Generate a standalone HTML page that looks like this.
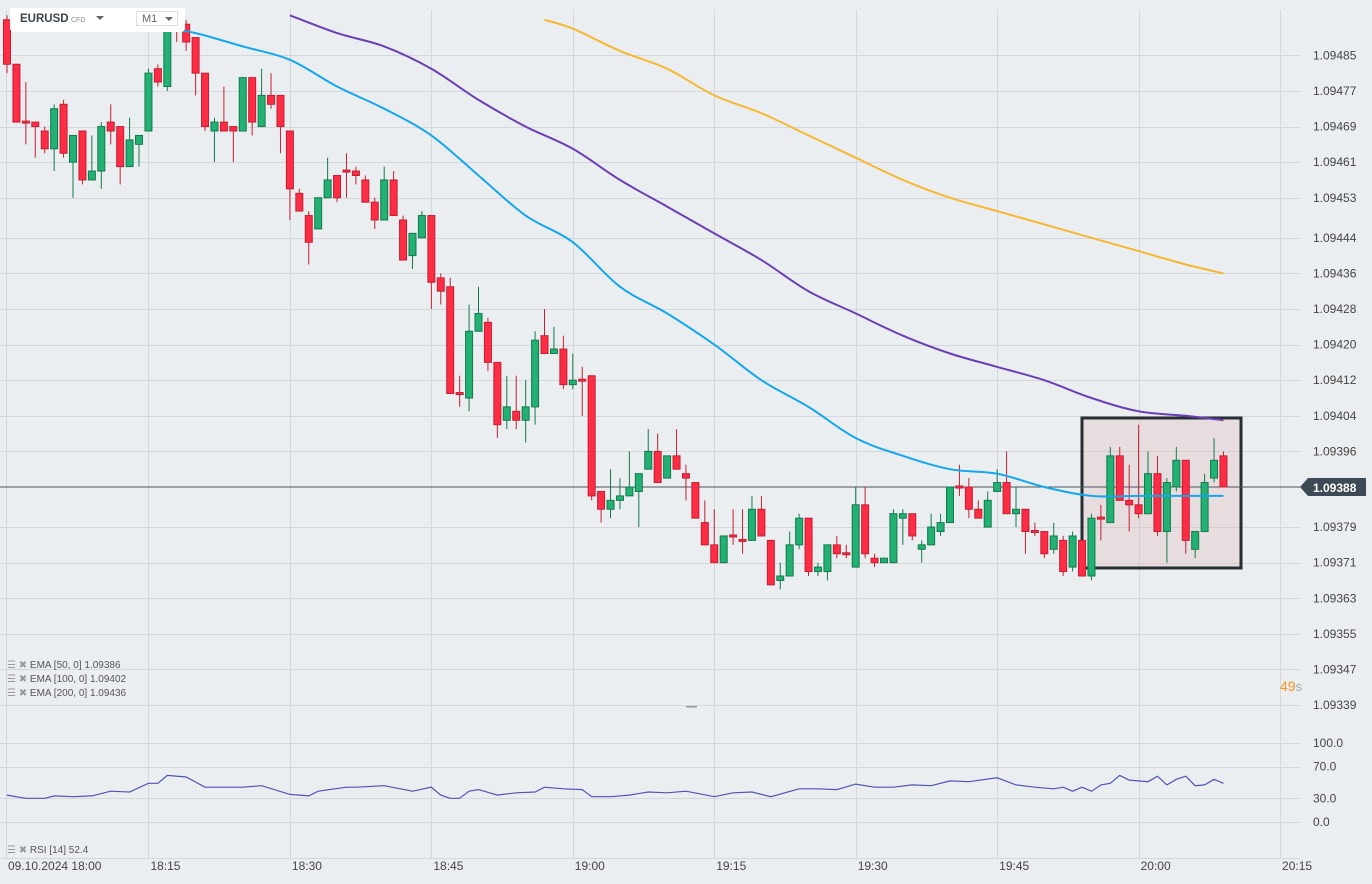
<!DOCTYPE html>
<html><head><meta charset="utf-8">
<style>
body{margin:0;background:#ebeef1;font-family:"Liberation Sans",sans-serif;}
#wrap{position:relative;width:1372px;height:884px;overflow:hidden;background:#ebeef1;}
svg{position:absolute;left:0;top:0;}
.hdr{position:absolute;left:10px;top:8px;width:175px;height:24px;background:#fff;border-radius:0 0 4px 4px;}
.sym{position:absolute;left:10px;top:5px;font-size:11.5px;font-weight:bold;color:#3a4550;}
.cfd{position:absolute;left:61px;top:9px;font-size:7px;color:#888;}
.tri{position:absolute;left:86px;top:8px;width:0;height:0;border-left:4px solid transparent;border-right:4px solid transparent;border-top:4px solid #666;}
.tf{position:absolute;left:126px;top:3px;width:42px;height:15px;border:1px solid #ddd;font-size:11px;color:#666;box-sizing:border-box;padding:1px 0 0 5px;}
.tf i{position:absolute;right:4px;top:5px;border-left:4px solid transparent;border-right:4px solid transparent;border-top:4px solid #666;}
.leg{position:absolute;left:7px;font-size:10px;color:#555;}
.leg b{color:#999;font-weight:normal;}
</style></head><body>
<div id="wrap">
<svg id="chart" width="1372" height="884"></svg>
<div class="hdr">
  <div class="sym">EURUSD</div>
  <div class="cfd">CFD</div>
  <div class="tri"></div>
  <div class="tf">M1<i></i></div>
</div>
<div class="leg" style="top:660px"><b>☰ ✖</b> EMA [50, 0] 1.09386</div>
<div class="leg" style="top:674px"><b>☰ ✖</b> EMA [100, 0] 1.09402</div>
<div class="leg" style="top:688px"><b>☰ ✖</b> EMA [200, 0] 1.09436</div>
<div class="leg" style="top:845px"><b>☰ ✖</b> RSI [14] 52.4</div>
<div style="position:absolute;left:1280px;top:678px;font-size:14px;color:#f7931e">49<span style="color:#aaa;font-size:13px">s</span></div>
</div>
<script>
const opens=[1.09493,1.09483,1.09470,1.09470,1.09468,1.09464,1.09474,1.09461,1.09468,1.09457,1.09459,1.09470,1.09469,1.09460,1.09465,1.09468,1.09482,1.09478,1.09492,1.09492,1.09489,1.09481,1.09468,1.09470,1.09469,1.09468,1.09480,1.09469,1.09476,1.09476,1.09468,1.09454,1.09449,1.09446,1.09453,1.09458,1.09459,1.09459,1.09457,1.09452,1.09448,1.09457,1.09448,1.09440,1.09444,1.09449,1.09435,1.09433,1.09409,1.09408,1.09423,1.09425,1.09416,1.09403,1.09405,1.09403,1.09406,1.09422,1.09418,1.09419,1.09411,1.09412,1.09413,1.09387,1.09383,1.09385,1.09386,1.09387,1.09392,1.09396,1.09390,1.09395,1.09391,1.09389,1.09380,1.09375,1.09371,1.09377,1.09376,1.09376,1.09383,1.09376,1.09367,1.09368,1.09375,1.09381,1.09369,1.09369,1.09375,1.09373,1.09370,1.09384,1.09372,1.09371,1.09371,1.09381,1.09382,1.09374,1.09375,1.09378,1.09380,1.09388,1.09388,1.09383,1.09379,1.09387,1.09389,1.09382,1.09383,1.09378,1.09378,1.09374,1.09376,1.09370,1.09376,1.09368,1.09381,1.09380,1.09395,1.09385,1.09384,1.09382,1.09391,1.09378,1.09388,1.09394,1.09374,1.09378,1.09390,1.09395];
const closes=[1.09483,1.09470,1.09470,1.09469,1.09464,1.09473,1.09463,1.09467,1.09457,1.09459,1.09469,1.09468,1.09460,1.09466,1.09467,1.09481,1.09479,1.09491,1.09491,1.09488,1.09481,1.09469,1.09470,1.09468,1.09468,1.09480,1.09470,1.09476,1.09474,1.09469,1.09455,1.09450,1.09443,1.09453,1.09457,1.09453,1.09459,1.09458,1.09452,1.09448,1.09457,1.09449,1.09439,1.09445,1.09449,1.09434,1.09432,1.09409,1.09409,1.09423,1.09427,1.09416,1.09402,1.09406,1.09403,1.09406,1.09421,1.09418,1.09419,1.09411,1.09412,1.09412,1.09386,1.09383,1.09385,1.09386,1.09388,1.09391,1.09396,1.09389,1.09395,1.09392,1.09390,1.09381,1.09375,1.09371,1.09377,1.09377,1.09376,1.09383,1.09377,1.09366,1.09368,1.09375,1.09381,1.09369,1.09370,1.09375,1.09373,1.09373,1.09384,1.09373,1.09371,1.09372,1.09382,1.09382,1.09377,1.09375,1.09379,1.09380,1.09388,1.09388,1.09383,1.09381,1.09385,1.09389,1.09382,1.09383,1.09378,1.09378,1.09373,1.09377,1.09369,1.09377,1.09368,1.09381,1.09381,1.09395,1.09385,1.09384,1.09382,1.09391,1.09378,1.09389,1.09394,1.09376,1.09378,1.09389,1.09394,1.09388];
const highs=[1.09494,1.09483,1.09479,1.09470,1.09469,1.09474,1.09475,1.09467,1.09468,1.09467,1.09470,1.09474,1.09469,1.09471,1.09467,1.09482,1.09483,1.09492,1.09493,1.09493,1.09489,1.09481,1.09471,1.09478,1.09469,1.09480,1.09480,1.09482,1.09481,1.09476,1.09468,1.09455,1.09450,1.09453,1.09462,1.09458,1.09463,1.09460,1.09458,1.09453,1.09460,1.09459,1.09449,1.09445,1.09450,1.09449,1.09436,1.09435,1.09413,1.09429,1.09433,1.09426,1.09416,1.09413,1.09413,1.09412,1.09423,1.09428,1.09424,1.09422,1.09418,1.09415,1.09413,1.09387,1.09392,1.09390,1.09396,1.09391,1.09401,1.09400,1.09395,1.09401,1.09393,1.09389,1.09385,1.09383,1.09377,1.09383,1.09383,1.09386,1.09386,1.09376,1.09371,1.09378,1.09382,1.09381,1.09371,1.09375,1.09377,1.09375,1.09388,1.09388,1.09373,1.09372,1.09383,1.09383,1.09382,1.09376,1.09382,1.09382,1.09388,1.09393,1.09390,1.09385,1.09387,1.09392,1.09396,1.09388,1.09383,1.09380,1.09378,1.09380,1.09377,1.09378,1.09376,1.09382,1.09384,1.09397,1.09397,1.09393,1.09402,1.09396,1.09395,1.09390,1.09397,1.09394,1.09378,1.09391,1.09399,1.09396];
const lows=[1.09481,1.09470,1.09465,1.09462,1.09463,1.09459,1.09462,1.09453,1.09456,1.09457,1.09455,1.09465,1.09456,1.09460,1.09460,1.09468,1.09478,1.09477,1.09488,1.09486,1.09476,1.09468,1.09461,1.09468,1.09461,1.09468,1.09467,1.09469,1.09473,1.09463,1.09448,1.09450,1.09438,1.09446,1.09453,1.09452,1.09453,1.09456,1.09452,1.09446,1.09448,1.09449,1.09439,1.09437,1.09444,1.09428,1.09429,1.09409,1.09406,1.09405,1.09423,1.09414,1.09399,1.09401,1.09401,1.09398,1.09402,1.09418,1.09418,1.09410,1.09410,1.09404,1.09385,1.09380,1.09381,1.09383,1.09386,1.09379,1.09392,1.09389,1.09390,1.09392,1.09385,1.09381,1.09375,1.09371,1.09371,1.09375,1.09373,1.09376,1.09377,1.09366,1.09365,1.09368,1.09374,1.09368,1.09368,1.09367,1.09372,1.09372,1.09370,1.09372,1.09370,1.09371,1.09371,1.09375,1.09376,1.09371,1.09375,1.09377,1.09380,1.09386,1.09381,1.09381,1.09379,1.09387,1.09382,1.09379,1.09373,1.09377,1.09372,1.09373,1.09368,1.09369,1.09368,1.09367,1.09376,1.09380,1.09385,1.09378,1.09381,1.09382,1.09377,1.09371,1.09387,1.09373,1.09372,1.09378,1.09389,1.09388];
const emaIdx=[12,15,20,25,30,35,40,45,50,55,60,65,70,75,80,85,90,95,100,105,110,115,120,125,129];
const ema50=[1.09494,1.09492,1.09490,1.09487,1.09484,1.09478,1.09473,1.09467,1.09458,1.09449,1.09443,1.09433,1.09427,1.09420,1.09412,1.09406,1.09399,1.09395,1.09392,1.09391,1.09388,1.09386,1.09386,1.09386,1.09386];
const ema100Idx=[30,35,40,45,50,55,60,65,70,75,80,85,90,95,100,105,110,115,120,125,129];
const ema100=[1.09494,1.09490,1.09487,1.09482,1.09475,1.09469,1.09464,1.09457,1.09451,1.09445,1.09439,1.09432,1.09427,1.09422,1.09418,1.09415,1.09412,1.09408,1.09405,1.09404,1.09403];
const ema200Idx=[57,60,65,70,75,80,85,90,95,100,105,110,115,120,125,129];
const ema200=[1.09493,1.09491,1.09486,1.09482,1.09476,1.09472,1.09467,1.09462,1.09457,1.09453,1.09450,1.09447,1.09444,1.09441,1.09438,1.09436];
const rsiIdx=[0,2,4,5,7,9,11,13,15,16,17,19,21,23,25,27,30,32,33,36,37,40,43,45,46,47,48,49,50,52,54,56,57,59,61,62,64,66,68,70,72,75,77,79,81,84,86,88,90,92,94,96,98,100,102,105,107,109,111,112,113,114,115,116,117,118,119,121,122,123,124,125,126,127,128,129];
const rsiVal=[34,30,30,33,32,33,39,38,49,49,59,57,44,44,44,46,35,33,39,44,44,46,39,44,34,30,30,39,41,34,37,38,44,42,41,32,32,34,38,37,39,32,37,38,32,42,42,41,48,44,44,47,46,52,51,56,47,44,42,44,39,44,39,47,49,59,53,51,58,47,54,58,46,47,54,49];
const priceTicks=["1.09485","1.09477","1.09469","1.09461","1.09453","1.09444","1.09436","1.09428","1.09420","1.09412","1.09404","1.09396","1.09379","1.09371","1.09363","1.09355","1.09347","1.09339"];
const rsiTicks=[100,70,30,0];
const timeLabels=["18:15","18:30","18:45","19:00","19:15","19:30","19:45","20:00","20:15"];
const lastPrice=1.09388;

const NS="http://www.w3.org/2000/svg";
const svg=document.getElementById('chart');
function X(i){return 7+i*9.43;}
function Y(p){return 487+(1.09388-p)*445000;}
function RY(v){return 822-0.79*v;}
function mk(t,a,parent){const e=document.createElementNS(NS,t);for(const k in a)e.setAttribute(k,a[k]);(parent||svg).appendChild(e);return e;}

const grid=mk('g',{});


priceTicks.forEach(t=>{const y=Math.round(Y(parseFloat(t)))+0.5;mk('line',{x1:0,x2:1300,y1:y,y2:y,stroke:'#d3d8dc','stroke-width':1},grid);});
rsiTicks.forEach(v=>{const y=Math.round(RY(v))+0.5;mk('line',{x1:0,x2:1300,y1:y,y2:y,stroke:'#d3d8dc','stroke-width':1},grid);});
mk('line',{x1:0,x2:1300,y1:858.5,y2:858.5,stroke:'#d3d8dc'},grid);
timeLabels.forEach((t,k)=>{const x=Math.round(X(15*(k+1)))+0.5;mk('line',{x1:x,x2:x,y1:10,y2:858,stroke:'#d3d8dc'},grid);});
mk('line',{x1:6.5,x2:6.5,y1:10,y2:858,stroke:'#d3d8dc'},grid);

const hb=mk('rect',{x:1082,y:418,width:159,height:150,fill:'rgba(220,170,170,0.25)',stroke:'#262e33','stroke-width':3});



const cl=mk('line',{x1:0,x2:1300,y1:Y(lastPrice),y2:Y(lastPrice),stroke:'#4a5560','stroke-width':1});



const defs=mk('defs',{});
const cp=mk('clipPath',{id:'pc'},defs);mk('rect',{x:0,y:14,width:1300,height:700},cp);
const plot=mk('g',{'clip-path':'url(#pc)'});

function smoothPath(pts){
  let d='M'+pts[0][0].toFixed(1)+' '+pts[0][1].toFixed(1);
  for(let k=0;k<pts.length-1;k++){
    const p0=pts[k-1]||pts[k],p1=pts[k],p2=pts[k+1],p3=pts[k+2]||p2;
    const c1=[p1[0]+(p2[0]-p0[0])/6,p1[1]+(p2[1]-p0[1])/6];
    const c2=[p2[0]-(p3[0]-p1[0])/6,p2[1]-(p3[1]-p1[1])/6];
    d+=` C${c1[0].toFixed(1)} ${c1[1].toFixed(1)} ${c2[0].toFixed(1)} ${c2[1].toFixed(1)} ${p2[0].toFixed(1)} ${p2[1].toFixed(1)}`;
  }
  return d;
}
function emaLine(idx,vals,col,name){
  const pts=idx.map((i,k)=>[X(i),Y(vals[k])]);
  const e=mk('path',{d:smoothPath(pts),fill:'none',stroke:col,'stroke-width':2,'stroke-linejoin':'round'},plot);
  
  
}
emaLine(ema200Idx,ema200,'#f7b731','ema200-line');
emaLine(ema100Idx,ema100,'#6a3fb5','ema100-line');

opens.forEach((o,i)=>{
  const c=closes[i],up=c>o;
  const fill=up?'#22b073':'#fe2d45',str=up?'#137a4d':'#c41f33';
  const x=X(i);
  const g=mk('g',{},plot);
  
  
  mk('line',{x1:x,x2:x,y1:Y(highs[i]),y2:Y(lows[i]),stroke:str,'stroke-width':1},g);
  let top=Y(Math.max(o,c)),bot=Y(Math.min(o,c));
  if(bot-top<2){const m=(top+bot)/2;top=m-1;bot=m+1;}
  mk('rect',{x:x-3.5,y:top,width:7,height:bot-top,fill:fill,stroke:str,'stroke-width':1},g);
});
emaLine(emaIdx,ema50,'#14a7ec','ema50-line');

priceTicks.forEach(t=>{const tx=mk('text',{x:1313,y:Y(parseFloat(t))+4,'font-size':12,fill:'#444','font-family':'Liberation Sans, sans-serif'});tx.textContent=t;

});
const tag=mk('g',{});


const ly=Y(lastPrice);
mk('path',{d:`M1300 ${ly} L1308 ${ly-9} L1366 ${ly-9} L1366 ${ly+9} L1308 ${ly+9} Z`,fill:'#3d4955'},tag);
const lt=mk('text',{x:1313,y:ly+5,'font-size':12,'font-weight':'bold',fill:'#fff','font-family':'Liberation Sans, sans-serif'},tag);lt.textContent=lastPrice.toFixed(5);

mk('rect',{x:686,y:706,width:11,height:1.5,fill:'#999'});

const rp=rsiIdx.map((i,k)=>X(i).toFixed(1)+','+RY(rsiVal[k]).toFixed(1)).join(' ');
const rl=mk('polyline',{points:rp,fill:'none',stroke:'#4e55b0','stroke-width':1.2});


rsiTicks.forEach(v=>{const tx=mk('text',{x:1313,y:RY(v)+4,'font-size':12,fill:'#444','font-family':'Liberation Sans, sans-serif'});tx.textContent=v.toFixed(1);

});

const t0=mk('text',{x:8,y:870,'font-size':12,fill:'#444','font-family':'Liberation Sans, sans-serif'});t0.textContent='09.10.2024  18:00';


timeLabels.forEach((t,k)=>{const tx=mk('text',{x:X(15*(k+1))+2,y:870,'font-size':12,fill:'#444','font-family':'Liberation Sans, sans-serif'});tx.textContent=t;

});
</script>
</body></html>
